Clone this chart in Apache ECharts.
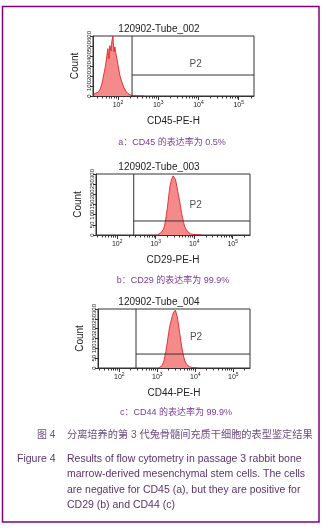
<!DOCTYPE html>
<html><head><meta charset="utf-8">
<script src="https://cdn.jsdelivr.net/npm/echarts@6/dist/echarts.min.js"></script>
<style>html,body{margin:0;padding:0;background:#fff}#c{width:325px;height:530px}</style>
</head><body><div id="c"></div>
<script>
// ---- data ----
const tubeTitles = ['120902-Tube_002', '120902-Tube_003', '120902-Tube_004'];
const axisNames = ['CD45-PE-H', 'CD29-PE-H', 'CD44-PE-H'];
const panelCaptions = ['a：CD45 的表达率为 0.5%', 'b：CD29 的表达率为 99.9%', 'c：CD44 的表达率为 99.9%'];
const decadeTicks = [2, 3, 4, 5];           // log10 of 10^2 .. 10^5
const yMax = [600, 300, 300];               // count axis max
const binStep = 0.025;                      // histogram bin width (log10 units)
const binStart = [1.40, 3.05, 3.05];        // first bin (log10)
const cd45Counts = [18,24,30,30,36,48,60,78,120,168,222,270,330,408,474,372,504,450,552,598,444,492,420,372,312,258,204,168,138,108,84,66,48,36,24,18,12,9,6,6,3,2,3,1,2,0,2,1,0,1,0];
const cd29Counts = [2,3,6,9,12,18,27,42,66,96,129,168,210,243,264,279,291,297,279,264,240,213,189,165,135,105,84,63,45,33,24,18,12,9,6,6,5,3,3,2,1,2,1,1,0,1,0];
const cd44Counts = [2,3,6,12,21,36,60,84,114,147,180,210,231,249,267,282,291,294,279,261,231,198,165,132,102,75,54,36,27,18,12,9,6,6,3,3,2,1,1,0,1,0];
const gateX = [2.35, 2.43, 2.44];           // P2 gate threshold (log10)
const gateY = [210, 69, 71];                // gate horizontal line (count)
const p2X = [3.93, 4.04, 4.02];
const p2Y = [318, 147, 158];
const figCaptionCN = '分离培养的第 3 代兔骨髓间充质干细胞的表型鉴定结果';
const figCaptionEN = ['Results of flow cytometry in passage 3 rabbit bone',
  'marrow-derived mesenchymal stem cells. The cells',
  'are negative for CD45 (a), but they are positive for',
  'CD29 (b) and CD44 (c)'];

// ---- layout ----
const grids = [
  {left: 93, top: 36, width: 161, height: 60},
  {left: 96, top: 174, width: 154, height: 61},
  {left: 98, top: 309, width: 152, height: 59}
];
const xRange = [[1.38, 5.38], [1.45, 5.45], [1.44, 5.44]];
const titleY = [29, 167, 302];
const captionY = [143, 281, 413];
const captionX = [172, 173, 176];
const countsAll = [cd45Counts, cd29Counts, cd44Counts];
const FONT = '"Liberation Sans", Arial, "Noto Sans CJK SC", sans-serif';

const minorTicks = [];
for (let n = 1; n <= 5; n++) for (let k = 2; k <= 9; k++) minorTicks.push(n + Math.log10(k));

const option = {
  animation: false,
  backgroundColor: '#fff',
  textStyle: {fontFamily: FONT},
  grid: grids.map(g => Object.assign({show: true, borderColor: '#333', borderWidth: 1, backgroundColor: 'transparent'}, g)),
  xAxis: [], yAxis: [], series: [], graphic: []
};

for (let i = 0; i < 3; i++) {
  const [xmin, xmax] = xRange[i];
  option.xAxis.push({
    type: 'value', gridIndex: i, min: xmin, max: xmax, position: 'bottom',
    name: axisNames[i], nameLocation: 'middle', nameGap: 20,
    nameTextStyle: {fontSize: 10, color: '#222', fontFamily: FONT},
    axisLine: {show: true, onZero: false, lineStyle: {color: '#333', width: 1}},
    axisTick: {show: true, customValues: decadeTicks, length: 4, lineStyle: {color: '#333'}},
    axisLabel: {show: true, customValues: decadeTicks, margin: 4, fontSize: 7, color: '#222', lineHeight: 10,
      formatter: v => '10{s|' + v + '}',
      rich: {s: {fontSize: 5, verticalAlign: 'top', lineHeight: 6, color: '#222'}}},
    splitLine: {show: false}
  });
  option.xAxis.push({
    type: 'value', gridIndex: i, min: xmin, max: xmax, position: 'bottom',
    axisLine: {show: false, onZero: false},
    axisTick: {show: true, customValues: minorTicks.filter(v => v > xmin && v < xmax), length: 2.5, lineStyle: {color: '#333'}},
    axisLabel: {show: false}, splitLine: {show: false}
  });
  option.yAxis.push({
    type: 'value', gridIndex: i, min: 0, max: yMax[i], interval: yMax[i] / 6,
    name: 'Count', nameLocation: 'middle', nameGap: 13, nameRotate: 90,
    nameTextStyle: {fontSize: 10, color: '#222', fontFamily: FONT},
    axisLine: {show: true, lineStyle: {color: '#333'}},
    axisTick: {show: true, length: 3, lineStyle: {color: '#333'}},
    axisLabel: {show: true, rotate: 90, fontSize: 6, margin: 1, color: '#222'},
    splitLine: {show: false}
  });
  const xi = i * 2;
  option.series.push({
    type: 'line', xAxisIndex: xi, yAxisIndex: i, symbol: 'none', smooth: false,
    lineStyle: {color: '#e0101a', width: 0.8},
    areaStyle: {color: '#f48a8a', opacity: 1},
    data: countsAll[i].map((c, j) => [binStart[i] + j * binStep, c]),
    z: 2
  });
  option.series.push({
    type: 'line', xAxisIndex: xi, yAxisIndex: i, symbol: 'none',
    lineStyle: {color: '#333', width: 1},
    data: [[gateX[i], 0], [gateX[i], yMax[i]]], z: 3
  });
  option.series.push({
    type: 'line', xAxisIndex: xi, yAxisIndex: i, symbol: 'none',
    lineStyle: {color: '#333', width: 1},
    data: [[gateX[i], gateY[i]], [xmax, gateY[i]]], z: 3
  });
  option.series.push({
    type: 'scatter', xAxisIndex: xi, yAxisIndex: i, symbolSize: 1, itemStyle: {color: 'transparent'},
    label: {show: true, position: 'inside', formatter: 'P2', fontSize: 10, color: '#222', fontFamily: FONT},
    data: [[p2X[i], p2Y[i]]], z: 4
  });
  option.graphic.push({type: 'text', x: 159, y: titleY[i],
    style: {text: tubeTitles[i], fill: '#222', font: '10px ' + FONT, textAlign: 'center', textVerticalAlign: 'middle'}});
  option.graphic.push({type: 'text', x: captionX[i], y: captionY[i],
    style: {text: panelCaptions[i], fill: '#7a3a9a', font: '9px ' + FONT, textAlign: 'center', textVerticalAlign: 'middle'}});
}

option.graphic.push({type: 'text', x: 37, y: 435,
  style: {text: '图 4', fill: '#6e4d80', font: '10px ' + FONT, textVerticalAlign: 'middle'}});
option.graphic.push({type: 'text', x: 67, y: 435,
  style: {text: figCaptionCN, fill: '#6e4d80', font: '10.2px ' + FONT, textVerticalAlign: 'middle'}});
option.graphic.push({type: 'text', x: 17, y: 459,
  style: {text: 'Figure 4', fill: '#5b3270', font: '10.5px ' + FONT, textVerticalAlign: 'middle'}});
figCaptionEN.forEach((line, k) => {
  option.graphic.push({type: 'text', x: 67, y: 459 + k * 15.5,
    style: {text: line, fill: '#5b3270', font: '10.5px ' + FONT, textVerticalAlign: 'middle'}});
});
option.graphic.push({type: 'rect', shape: {x: 2.5, y: 6.5, width: 316.5, height: 515.5},
  style: {fill: 'none', stroke: '#800080', lineWidth: 1.5}, z: -1});

const chart = echarts.init(document.getElementById('c'), null, {renderer: 'canvas'});
chart.setOption(option);
</script></body></html>
